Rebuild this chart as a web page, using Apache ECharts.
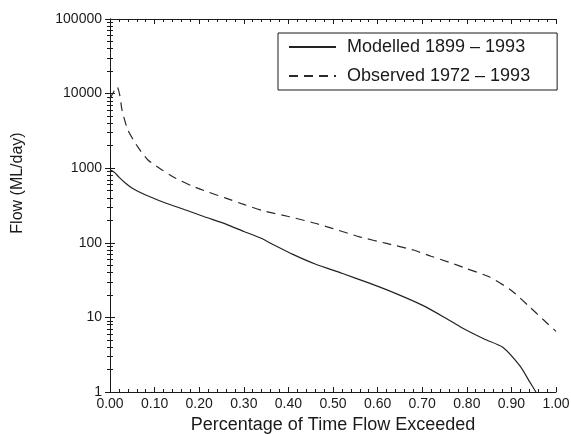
<!DOCTYPE html>
<html>
<head>
<meta charset="utf-8">
<script src="https://cdn.jsdelivr.net/npm/echarts@6/dist/echarts.min.js"></script>
<style>
  html, body { margin: 0; padding: 0; background: #fff; }
  #chart { width: 571px; height: 434px; }
</style>
</head>
<body>
<div id="chart"></div>
<script>
// Modelled 1899 - 1993
var modelledX = [0, 0.01, 0.02, 0.035, 0.05, 0.08, 0.12, 0.17, 0.21, 0.26, 0.30, 0.34, 0.37, 0.41, 0.46, 0.52, 0.58, 0.64, 0.70, 0.75, 0.79, 0.84, 0.88, 0.92, 0.94, 0.955];
var modelledY = [950, 880, 760, 630, 540, 437, 350, 275, 225, 178, 142, 114, 92, 70, 52, 39, 29, 21, 14.6, 10, 7.2, 5.1, 4, 2.2, 1.4, 1.0];

// Observed 1972 - 1993
var observedX = [0, 0.016, 0.022, 0.027, 0.04, 0.063, 0.085, 0.117, 0.146, 0.184, 0.22, 0.258, 0.303, 0.344, 0.40, 0.45, 0.50, 0.56, 0.62, 0.68, 0.72, 0.76, 0.80, 0.85, 0.90, 0.94, 0.97, 1.00];
var observedY = [8500, 12300, 9500, 6000, 3240, 1900, 1290, 946, 740, 577, 480, 400, 322, 268, 225, 190, 155, 120, 98, 80, 66, 55, 45, 35, 23, 14, 9.5, 6.5];

var seriesNames = ['Modelled 1899 \u2013 1993', 'Observed 1972 \u2013 1993'];
var xTickStep = 0.1;

function pairs(xs, ys) {
    var out = [];
    for (var i = 0; i < xs.length; i++) {
        out.push([xs[i], ys[i]]);
    }
    return out;
}

var font = 'Liberation Sans, Arial, Helvetica, sans-serif';
var ink = '#1a1a1a';

var baseX = {
    type: 'value',
    min: 0,
    max: 1,
    interval: xTickStep,
    axisLine: { show: true, lineStyle: { color: ink, width: 1 } },
    axisTick: { show: true, inside: true, length: 5, lineStyle: { color: ink } },
    minorTick: { show: true, splitNumber: 5, length: 3, lineStyle: { color: ink } },
    splitLine: { show: false }
};
var baseY = {
    type: 'log',
    logBase: 10,
    min: 1,
    max: 100000,
    axisLine: { show: true, lineStyle: { color: ink, width: 1 } },
    axisTick: { show: true, inside: true, length: 5, lineStyle: { color: ink } },
    minorTick: { show: true, splitNumber: 9, length: 3, lineStyle: { color: ink } },
    splitLine: { show: false }
};

var myChart = echarts.init(document.getElementById('chart'));

myChart.setOption({
    animation: false,
    backgroundColor: '#fff',
    textStyle: { fontFamily: font, color: ink },
    grid: {
        left: 110,
        right: 15,
        top: 19,
        bottom: 42,
        containLabel: false,
        outerBoundsMode: 'none'
    },
    legend: {
        orient: 'vertical',
        left: 278,
        top: 33,
        padding: [5, 27, 5, 10],
        itemWidth: 47,
        itemHeight: 14,
        itemGap: 11,
        borderColor: ink,
        borderWidth: 1,
        borderRadius: 0,
        itemStyle: { opacity: 0 },
        textStyle: { fontSize: 18, fontFamily: font, color: ink, padding: [0, 0, 0, 6] },
        data: seriesNames
    },
    xAxis: [
        Object.assign({}, baseX, {
            position: 'bottom',
            name: 'Percentage of Time Flow Exceeded',
            nameLocation: 'middle',
            nameGap: 16,
            nameTextStyle: { fontSize: 18, fontFamily: font, color: ink, verticalAlign: 'top' },
            axisLabel: {
                show: true,
                margin: 5,
                fontSize: 14,
                color: ink,
                formatter: function (v) { return v.toFixed(2); }
            }
        }),
        Object.assign({}, baseX, {
            position: 'top',
            axisLabel: { show: false }
        })
    ],
    yAxis: [
        Object.assign({}, baseY, {
            position: 'left',
            axisLabel: {
                show: true,
                margin: 8,
                fontSize: 14,
                color: ink,
                formatter: function (v) { return String(Math.round(v)); }
            }
        }),
        Object.assign({}, baseY, {
            position: 'right',
            axisLabel: { show: false }
        })
    ],
    graphic: [{
        type: 'text',
        x: 18,
        y: 183,
        rotation: Math.PI / 2,
        style: {
            text: 'Flow (ML/day)',
            fontSize: 16,
            fontFamily: font,
            fill: ink,
            align: 'center',
            verticalAlign: 'middle'
        }
    }],
    series: [
        {
            name: seriesNames[0],
            type: 'line',
            xAxisIndex: 0,
            yAxisIndex: 0,
            symbol: 'none',
            showSymbol: false,
            smooth: 0.2,
            lineStyle: { color: '#222', width: 1.2, type: 'solid' },
            itemStyle: { color: '#222' },
            data: pairs(modelledX, modelledY)
        },
        {
            name: seriesNames[1],
            type: 'line',
            xAxisIndex: 0,
            yAxisIndex: 0,
            symbol: 'none',
            showSymbol: false,
            smooth: 0.2,
            lineStyle: { color: '#2a2a2a', width: 1.2, type: [9, 6] },
            itemStyle: { color: '#2a2a2a' },
            data: pairs(observedX, observedY)
        }
    ]
});
</script>
</body>
</html>
